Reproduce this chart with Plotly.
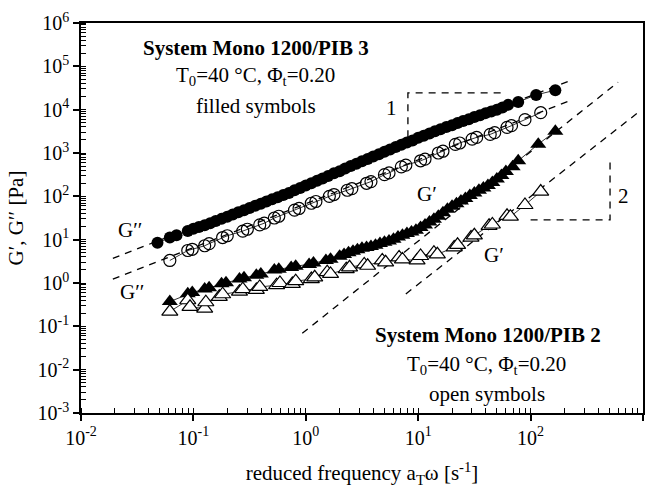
import plotly.graph_objects as go

# System Mono 1200/PIB 3 (filled symbols)
freq_g2_pib3 = [0.0479, 0.0617, 0.0708, 0.0891, 0.100, 0.112, 0.126, 0.141, 0.158, 0.178,
                0.200, 0.224, 0.251, 0.282, 0.316, 0.355, 0.398, 0.447, 0.501, 0.562,
                0.631, 0.708, 0.794, 0.891, 1.00, 1.12, 1.26, 1.41, 1.58, 1.78,
                2.00, 2.24, 2.51, 2.82, 3.16, 3.55, 3.98, 4.47, 5.01, 5.62,
                6.31, 7.08, 7.94, 8.91, 10.0, 11.2, 12.6, 14.1, 15.8, 17.8,
                20.0, 22.4, 25.1, 28.2, 31.6, 35.5, 39.8, 44.7, 50.1, 56.2,
                63.1, 77.6, 112, 166]
g2_pib3 = [8.51, 11.2, 12.6, 15.8, 17.8, 19.5, 21.4, 24.0, 26.9, 30.2,
           33.9, 38.0, 42.7, 47.9, 53.7, 60.3, 67.6, 75.9, 85.1, 95.5,
           107, 120, 138, 155, 178, 200, 229, 257, 295, 339,
           380, 437, 501, 562, 646, 724, 832, 933, 1070, 1200,
           1380, 1550, 1740, 1950, 2240, 2510, 2820, 3160, 3550, 3980,
           4370, 4900, 5500, 6030, 6760, 7410, 8320, 9120, 10000, 11200,
           12900, 15100, 21900, 28200]

freq_g1_pib3 = [0.0617, 0.0891, 0.0977, 0.126, 0.138, 0.178, 0.195, 0.257, 0.282, 0.363,
                0.398, 0.525, 0.575, 0.741, 0.813, 1.07, 1.17, 1.51, 1.66,
                2.00, 2.19, 2.40, 2.63, 2.88, 3.16, 3.47, 3.80, 4.17, 4.57,
                5.01, 5.50, 6.03, 6.61, 7.24, 7.94, 8.71, 9.55, 10.5, 11.5,
                12.6, 13.8, 15.1, 16.6, 18.2, 20.0, 21.9, 24.0, 26.3, 28.8,
                31.6, 34.7, 38.0, 41.7, 45.7, 50.1, 55.0, 60.3, 69.2, 77.6,
                117, 166]
g1_pib3 = [0.372, 0.562, 0.600, 0.724, 0.776, 0.955, 1.02, 1.23, 1.32, 1.51,
           1.62, 2.00, 2.09, 2.29, 2.45, 2.69, 2.88, 3.31, 3.55,
           4.17, 4.57, 5.01, 5.37, 5.89, 6.31, 6.61, 6.92, 7.41, 8.13,
           8.71, 9.33, 10.2, 11.5, 12.6, 13.8, 15.1, 16.6, 19.1, 21.9,
           25.7, 29.5, 34.7, 41.7, 50.1, 58.9, 67.6, 77.6, 89.1, 105,
           120, 138, 155, 178, 209, 251, 302, 372, 479, 661,
           1600, 3160]

# System Mono 1200/PIB 2 (open symbols)
freq_g2_pib2 = [0.0617, 0.0891, 0.0977, 0.126, 0.138, 0.182, 0.200, 0.275, 0.302, 0.389,
                0.427, 0.525, 0.575, 0.794, 0.871, 1.12, 1.23, 1.62, 1.78, 2.34,
                2.57, 3.47, 3.80, 5.01, 5.50, 7.08, 7.76, 10.5, 11.5, 15.1,
                16.6, 21.4, 23.4, 30.2, 33.1, 43.7, 47.9, 61.7, 67.6, 89.1,
                123]
g2_pib2 = [3.31, 5.62, 6.00, 7.24, 8.10, 11.2, 12.3, 15.8, 17.4, 21.9,
           24.0, 31.6, 34.7, 47.9, 52.5, 69.2, 75.9, 100, 110, 138,
           151, 200, 219, 316, 347, 479, 525, 661, 724, 1000,
           1100, 1580, 1700, 2090, 2290, 2690, 2950, 3890, 4270, 5890,
           8510]

freq_g1_pib2 = [0.0617, 0.0891, 0.0933, 0.126, 0.129, 0.170, 0.182, 0.257, 0.275, 0.363,
                0.389, 0.550, 0.589, 0.759, 0.813, 1.12, 1.20, 1.55, 1.66, 2.29,
                2.45, 3.31, 3.55, 4.79, 5.13, 6.76, 7.24, 9.77, 10.5, 13.8,
                14.8, 20.9, 22.4, 29.5, 31.6, 42.7, 45.7, 61.7, 66.1, 89.1,
                123]
g1_pib2 = [0.219, 0.400, 0.282, 0.257, 0.360, 0.479, 0.550, 0.631, 0.720, 0.692,
           0.810, 0.891, 1.00, 0.955, 1.10, 1.23, 1.35, 1.78, 1.62, 2.09,
           2.30, 2.69, 2.50, 3.31, 3.00, 3.89, 3.50, 3.31, 4.20, 5.01,
           4.60, 6.61, 7.60, 11.2, 12.6, 20.9, 22.4, 35.5, 33.9, 63.1,
           129]

# Terminal-zone guide lines (slope 1 for G'', slope 2 for G')
guide_g2_pib3 = ([0.0192, 230], [3.7, 48000])
guide_g2_pib2 = ([0.0192, 235], [1.23, 17000])
guide_g1_pib3 = ([0.93, 600], [0.069, 43000])
guide_g1_pib2 = ([7.76, 900], [0.56, 8500])

# Slope triangles
slope1_x = [8.1, 8.1, 55]
slope1_y = [2310, 24300, 24300]
slope2_x = [100, 509, 509]
slope2_y = [28.5, 28.5, 811]

x_decades = [0.01, 0.1, 1, 10, 100, 1000]
x_ticktext = ["10<sup>-2</sup>", "10<sup>-1</sup>", "10<sup>0</sup>",
              "10<sup>1</sup>", "10<sup>2</sup>", "10<sup>3</sup>"]
y_decades = [1e-3, 1e-2, 1e-1, 1, 10, 100, 1e3, 1e4, 1e5, 1e6]
y_ticktext = ["10<sup>-3</sup>", "10<sup>-2</sup>", "10<sup>-1</sup>", "10<sup>0</sup>",
              "10<sup>1</sup>", "10<sup>2</sup>", "10<sup>3</sup>", "10<sup>4</sup>",
              "10<sup>5</sup>", "10<sup>6</sup>"]

FONT = "Liberation Serif, Times New Roman, serif"
dash_line = dict(color="black", width=1.3, dash="7px,6px")
thin = dict(color="black", width=0.8)

fig = go.Figure()

for gx, gy in (guide_g2_pib3, guide_g2_pib2, guide_g1_pib3, guide_g1_pib2):
    fig.add_trace(go.Scatter(x=gx, y=gy, mode="lines", line=dash_line,
                             hoverinfo="skip", showlegend=False))

fig.add_trace(go.Scatter(x=slope1_x, y=slope1_y, mode="lines", line=dash_line, showlegend=False))
fig.add_trace(go.Scatter(x=slope2_x, y=slope2_y, mode="lines", line=dash_line, showlegend=False))

fig.add_trace(go.Scatter(
    x=freq_g2_pib2, y=g2_pib2, mode="lines+markers", line=thin, name="G'' PIB 2",
    marker=dict(symbol="circle-open", size=12, color="black", line=dict(width=1.2))))
fig.add_trace(go.Scatter(
    x=freq_g2_pib3, y=g2_pib3, mode="lines+markers", line=thin, name="G'' PIB 3",
    marker=dict(symbol="circle", size=12, color="black")))
fig.add_trace(go.Scatter(
    x=freq_g1_pib3, y=g1_pib3, mode="lines+markers", line=thin, name="G' PIB 3",
    marker=dict(symbol="triangle-up", size=14, color="black")))
fig.add_trace(go.Scatter(
    x=freq_g1_pib2, y=g1_pib2, mode="lines+markers", line=thin, name="G' PIB 2",
    marker=dict(symbol="triangle-up", size=14, color="white",
                line=dict(color="black", width=1.2))))


def px_to_paper(px, py):
    return (px - 81) / 564, (413 - py) / 396


texts = [
    ("<b>System Mono 1200/PIB 3</b>", 257, 42),
    ("T<sub>0</sub>=40 °C, Φ<sub>t</sub>=0.20", 256, 71),
    ("filled symbols", 257, 101),
    ("<b>System Mono 1200/PIB 2</b>", 489, 334),
    ("T<sub>0</sub>=40 °C, Φ<sub>t</sub>=0.20", 488, 364),
    ("open symbols", 488, 394),
    ("G′′", 130, 227),
    ("G′′", 132, 290),
    ("G′", 428, 191),
    ("G′", 495, 253),
    ("1", 393, 103),
    ("2", 625, 193),
]
for txt, px, py in texts:
    ax, ay = px_to_paper(px, py)
    fig.add_annotation(x=ax, y=ay, xref="paper", yref="paper", text=txt,
                       showarrow=False, xanchor="center", yanchor="middle",
                       font=dict(family=FONT, size=21, color="black"))

axis_common = dict(
    type="log", showgrid=False, zeroline=False, showline=True, linecolor="black",
    linewidth=1.5, mirror=True, ticks="outside", ticklen=6, tickwidth=1.5,
    tickcolor="black", tickfont=dict(family=FONT, size=20, color="black"),
    tickmode="array",
    minor=dict(ticks="inside", ticklen=5, tickwidth=1, tickcolor="black", dtick="D1"),
)

fig.update_xaxes(**axis_common, range=[-2, 3], tickvals=x_decades, ticktext=x_ticktext,
                 title=dict(text="reduced frequency a<sub>T</sub>ω [s<sup>-1</sup>]",
                            font=dict(family=FONT, size=21, color="black"), standoff=18))
fig.update_yaxes(**axis_common, range=[-3, 6], tickvals=y_decades, ticktext=y_ticktext,
                 title=dict(text="G′, G′′ [Pa]",
                            font=dict(family=FONT, size=21, color="black"), standoff=8))

fig.update_layout(
    width=655, height=500, showlegend=False,
    margin=dict(l=81, r=10, t=17, b=87),
    paper_bgcolor="white", plot_bgcolor="white",
)

fig.write_html("out.html")
